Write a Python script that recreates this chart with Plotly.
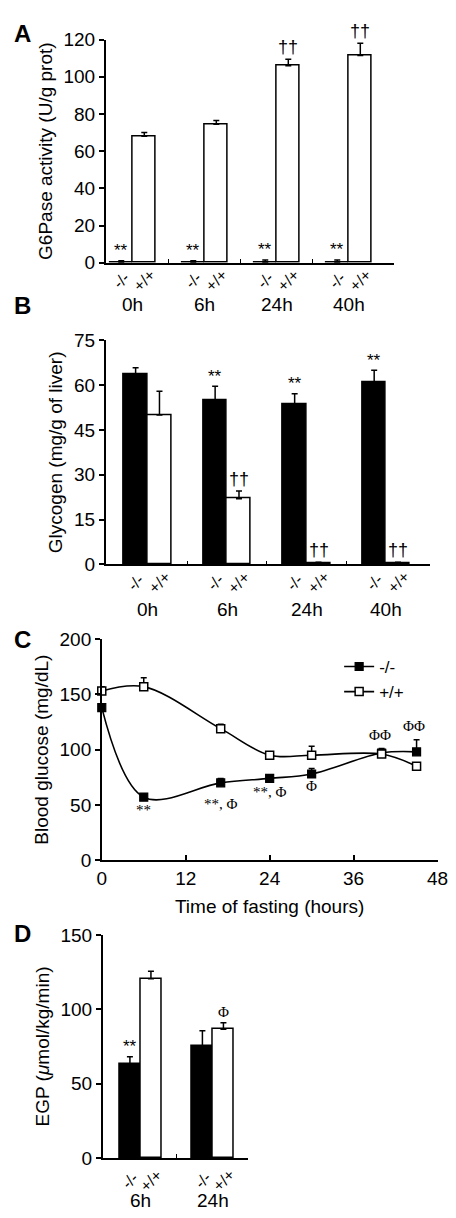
import plotly.graph_objects as go

# ---------------- DATA ----------------
groups_ab = ["0h", "6h", "24h", "40h"]
genotypes = ["-/-", "+/+"]

# Panel A: G6Pase activity (U/g prot)
g6p_ko = [0.3, 0.3, 0.3, 0.3]
g6p_ko_err = [0.8, 0.8, 1.2, 1.2]
g6p_wt = [68, 74.5, 106, 111.5]
g6p_wt_err = [2, 2, 3.5, 6.5]
g6p_ko_sig = ["**", "**", "**", "**"]
g6p_wt_sig = ["", "", "††", "††"]

# Panel B: Glycogen (mg/g of liver)
gly_ko = [63.5, 55, 53.5, 61]
gly_ko_err = [2.3, 4.6, 3.6, 4]
gly_wt = [50, 22, 0.5, 0.5]
gly_wt_err = [8, 2.6, 0.2, 0.2]
gly_ko_sig = ["", "**", "**", "**"]
gly_wt_sig = ["", "††", "††", "††"]

# Panel C: Blood glucose (mg/dL) vs time of fasting (hours)
time_h = [0, 6, 17, 24, 30, 40, 45]
bg_ko = [138, 57, 70, 74, 78, 97, 98]
bg_ko_err = [0, 3, 4, 2, 5, 4, 11]
bg_wt = [153, 157, 119, 95, 95, 96, 85]
bg_wt_err = [4, 8, 4, 3, 8, 4, 3]
bg_sig_x = [6, 17, 24, 30, 39.8, 44.7]
bg_sig_y = [45, 51, 62, 67, 113, 121]
bg_sig_text = ["**", "**, Φ", "**, Φ", "Φ", "ΦΦ", "ΦΦ"]
time_ticks = [0, 12, 24, 36, 48]

# Panel D: EGP (µmol/kg/min)
groups_d = ["6h", "24h"]
egp_ko = [63, 75.5]
egp_ko_err = [5, 10]
egp_wt = [120.5, 86.5]
egp_wt_err = [5, 4.5]
egp_ko_sig = ["**", ""]
egp_wt_sig = ["", "Φ"]

# ---------------- LAYOUT HELPERS ----------------
W, H = 456, 1218
FONT = "Liberation Sans, Arial, Helvetica, sans-serif"
SERIF = "Liberation Serif, Times New Roman, serif"


def xdom(px0, px1):
    return [px0 / W, px1 / W]


def ydom(py_top, py_bottom):
    return [(H - py_bottom) / H, (H - py_top) / H]


fig = go.Figure()
annotations = []


def add_bar_panel(n, groups, ko, ko_err, wt, wt_err, ko_sig, wt_sig, bw):
    xa = "x" if n == 1 else f"x{n}"
    ya = "y" if n == 1 else f"y{n}"
    idx = list(range(len(groups)))
    x_ko = [i - bw / 2 for i in idx]
    x_wt = [i + bw / 2 for i in idx]
    fig.add_trace(go.Bar(
        x=x_ko, y=ko, width=bw, xaxis=xa, yaxis=ya,
        marker=dict(color="black", line=dict(color="black", width=1.5)),
        error_y=dict(type="data", array=ko_err, arrayminus=[0] * len(ko),
                     symmetric=False, color="black", thickness=1.5, width=3),
        showlegend=False, cliponaxis=False))
    fig.add_trace(go.Bar(
        x=x_wt, y=wt, width=bw, xaxis=xa, yaxis=ya,
        marker=dict(color="white", line=dict(color="black", width=1.5)),
        error_y=dict(type="data", array=wt_err, arrayminus=[0] * len(wt),
                     symmetric=False, color="black", thickness=1.5, width=3),
        showlegend=False, cliponaxis=False))
    for i in idx:
        if ko_sig[i]:
            annotations.append(dict(
                x=x_ko[i], y=ko[i] + ko_err[i], xref=xa, yref=ya,
                text=ko_sig[i], showarrow=False, yanchor="middle", yshift=10,
                font=dict(family=FONT, size=17, color="black")))
        if wt_sig[i]:
            dag = "†" in wt_sig[i]
            annotations.append(dict(
                x=x_wt[i], y=wt[i] + wt_err[i], xref=xa, yref=ya,
                text=wt_sig[i], showarrow=False, yanchor="middle",
                yshift=12 if dag else 11,
                font=dict(family=FONT if dag else SERIF,
                          size=18 if dag else 15, color="black")))
    return xa, ya, x_ko, x_wt


def add_group_labels(xa, ya, groups, x_ko, x_wt, lab_shift, grp_shift):
    for i, g in enumerate(groups):
        for xx, lab in ((x_ko[i], genotypes[0]), (x_wt[i], genotypes[1])):
            annotations.append(dict(
                x=xx, y=0, xref=xa, yref=ya + " domain", text=lab,
                showarrow=False, textangle=-45, yanchor="middle",
                yshift=lab_shift,
                font=dict(family=FONT, size=16, color="black")))
        annotations.append(dict(
            x=(x_ko[i] + x_wt[i]) / 2, y=0, xref=xa, yref=ya + " domain",
            text=g, showarrow=False, yanchor="middle", yshift=grp_shift,
            font=dict(family=FONT, size=19, color="black")))


# Panel A
xa, ya, xk, xw = add_bar_panel(1, groups_ab, g6p_ko, g6p_ko_err, g6p_wt,
                               g6p_wt_err, g6p_ko_sig, g6p_wt_sig, 0.32)
add_group_labels(xa, ya, groups_ab, xk, xw, -18, -42)
# Panel B
xa, ya, xk, xw = add_bar_panel(2, groups_ab, gly_ko, gly_ko_err, gly_wt,
                               gly_wt_err, gly_ko_sig, gly_wt_sig, 0.30)
add_group_labels(xa, ya, groups_ab, xk, xw, -18, -45)

# Panel C
fig.add_trace(go.Scatter(
    x=time_h, y=bg_ko, name="-/-", xaxis="x3", yaxis="y3",
    mode="lines+markers", line=dict(color="black", width=1.6, shape="spline",
                                    smoothing=1.0),
    marker=dict(symbol="square", size=8, color="black",
                line=dict(color="black", width=1.2)),
    error_y=dict(type="data", array=bg_ko_err, arrayminus=[0] * len(bg_ko),
                 symmetric=False, color="black", thickness=1.5, width=3),
    cliponaxis=False))
fig.add_trace(go.Scatter(
    x=time_h, y=bg_wt, name="+/+", xaxis="x3", yaxis="y3",
    mode="lines+markers", line=dict(color="black", width=1.6, shape="spline",
                                    smoothing=1.0),
    marker=dict(symbol="square", size=8, color="white",
                line=dict(color="black", width=1.5)),
    error_y=dict(type="data", array=bg_wt_err, arrayminus=[0] * len(bg_wt),
                 symmetric=False, color="black", thickness=1.5, width=3),
    cliponaxis=False))
for sx, sy, st in zip(bg_sig_x, bg_sig_y, bg_sig_text):
    annotations.append(dict(
        x=sx, y=sy, xref="x3", yref="y3", text=st, showarrow=False,
        font=dict(family=SERIF, size=15, color="black")))

# Panel D
xa, ya, xk, xw = add_bar_panel(4, groups_d, egp_ko, egp_ko_err, egp_wt,
                               egp_wt_err, egp_ko_sig, egp_wt_sig, 0.29)
add_group_labels(xa, ya, groups_d, xk, xw, -22, -42)

# panel letters
for letter, px, py in (("A", 10, 16), ("B", 10, 293), ("C", 10, 632),
                       ("D", 10, 932)):
    annotations.append(dict(
        x=px / W, y=(H - py) / H, xref="paper", yref="paper",
        text=f"<b>{letter}</b>", showarrow=False, xanchor="center",
        yanchor="middle", font=dict(family=FONT, size=24, color="black")))

tickfont = dict(family=FONT, size=19, color="black")
titlefont = dict(family=FONT, size=19, color="black")


def yaxis(dom, rng, dtick, title, xanchor):
    return dict(domain=dom, range=rng, dtick=dtick, tick0=0, anchor=xanchor,
                showline=True, linecolor="black", linewidth=1.5,
                ticks="outside", ticklen=5, tickwidth=1.5, tickcolor="black",
                showgrid=False, zeroline=False, tickfont=tickfont,
                title=dict(text=title, font=titlefont, standoff=6))


def xaxis_bar(dom, rng, n_groups, yanchor):
    return dict(domain=dom, range=rng, anchor=yanchor, showline=True,
                linecolor="black", linewidth=1.5, showgrid=False,
                zeroline=False, showticklabels=False, ticks="",
                tickmode="array", tickvals=[],
                minor=dict(ticks="inside", ticklen=4, tickwidth=1.2,
                           tickcolor="black", tickmode="array",
                           tickvals=[i + 0.5 for i in range(n_groups - 1)],
                           showgrid=False))


fig.update_layout(
    width=W, height=H, margin=dict(l=0, r=0, t=0, b=0),
    paper_bgcolor="white", plot_bgcolor="white",
    font=dict(family=FONT, color="black"),
    bargap=0,
    xaxis=xaxis_bar(xdom(96, 395), [-0.377, 3.63], 4, "y"),
    yaxis=yaxis(ydom(22, 249), [0, 120], 20, "G6Pase activity (U/g prot)", "x"),
    xaxis2=xaxis_bar(xdom(96, 432), [-0.527, 3.55], 4, "y2"),
    yaxis2=yaxis(ydom(328, 556), [0, 75], 15, "Glycogen (mg/g of liver)", "x2"),
    xaxis3=dict(domain=xdom(92, 440), range=[0, 48], tickmode="array",
                tickvals=time_ticks, anchor="y3", showline=True,
                linecolor="black", linewidth=1.5,
                ticks="inside", ticklen=5, tickwidth=1.5, tickcolor="black",
                showgrid=False, zeroline=False, tickfont=tickfont,
                title=dict(text="Time of fasting (hours)", font=titlefont,
                           standoff=12)),
    yaxis3=yaxis(ydom(632, 857), [0, 200], 50, "Blood glucose (mg/dL)", "x3"),
    xaxis4=xaxis_bar(xdom(93, 244), [-0.52, 1.49], 2, "y4"),
    yaxis4=yaxis(ydom(933, 1160), [0, 150], 50,
                 "EGP (<i>μ</i>mol/kg/min)", "x4"),
    legend=dict(x=338 / W, y=(H - 642) / H, xanchor="left", yanchor="top",
                font=dict(family=FONT, size=17, color="black"),
                bgcolor="rgba(0,0,0,0)", tracegroupgap=0, itemwidth=30),
    annotations=annotations,
)

fig.write_html("out.html")
